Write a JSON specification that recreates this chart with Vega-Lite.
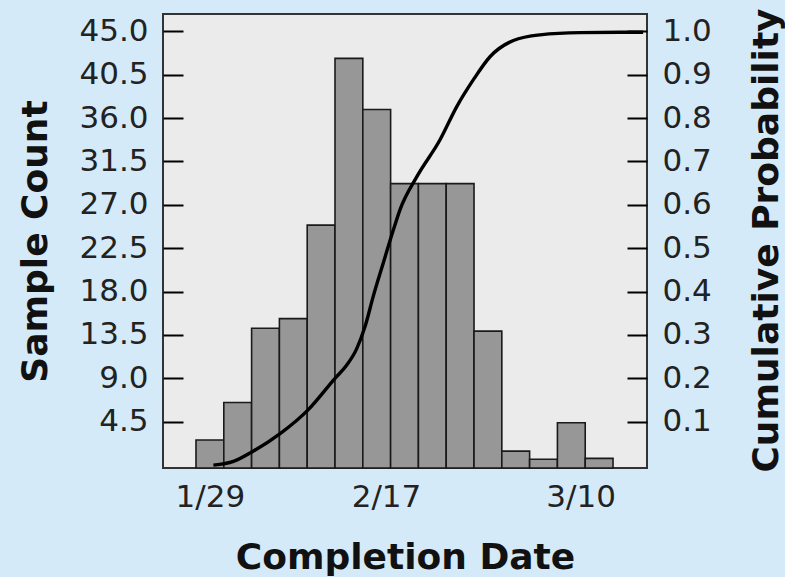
{
  "$schema": "https://vega.github.io/schema/vega-lite/v6.json",
  "description": "Histogram of completion dates with cumulative probability curve.",
  "width": 484,
  "height": 454,
  "autosize": {"type": "none"},
  "padding": {"left": 163, "top": 14, "right": 138, "bottom": 109},
  "background": "#d5eaf8",
  "datasets": {
    "bins": [
      {"start": "2023-01-27T12:00:00Z", "end": "2023-01-30T12:00:00Z", "count": 2.6},
      {"start": "2023-01-30T12:00:00Z", "end": "2023-02-02T12:00:00Z", "count": 6.5},
      {"start": "2023-02-02T12:00:00Z", "end": "2023-02-05T12:00:00Z", "count": 14.2},
      {"start": "2023-02-05T12:00:00Z", "end": "2023-02-08T12:00:00Z", "count": 15.2},
      {"start": "2023-02-08T12:00:00Z", "end": "2023-02-11T12:00:00Z", "count": 24.9},
      {"start": "2023-02-11T12:00:00Z", "end": "2023-02-14T12:00:00Z", "count": 42.2},
      {"start": "2023-02-14T12:00:00Z", "end": "2023-02-17T12:00:00Z", "count": 36.9},
      {"start": "2023-02-17T12:00:00Z", "end": "2023-02-20T12:00:00Z", "count": 29.2},
      {"start": "2023-02-20T12:00:00Z", "end": "2023-02-23T12:00:00Z", "count": 29.2},
      {"start": "2023-02-23T12:00:00Z", "end": "2023-02-26T12:00:00Z", "count": 29.2},
      {"start": "2023-02-26T12:00:00Z", "end": "2023-03-01T12:00:00Z", "count": 13.9},
      {"start": "2023-03-01T12:00:00Z", "end": "2023-03-04T12:00:00Z", "count": 1.45},
      {"start": "2023-03-04T12:00:00Z", "end": "2023-03-07T12:00:00Z", "count": 0.6},
      {"start": "2023-03-07T12:00:00Z", "end": "2023-03-10T12:00:00Z", "count": 4.4},
      {"start": "2023-03-10T12:00:00Z", "end": "2023-03-13T12:00:00Z", "count": 0.7}
    ],
    "cumulative": [
      {"date": "2023-01-29T09:00:00Z", "prob": 0.0},
      {"date": "2023-01-31T13:00:00Z", "prob": 0.0085},
      {"date": "2023-02-02T16:00:00Z", "prob": 0.032},
      {"date": "2023-02-05T13:00:00Z", "prob": 0.072},
      {"date": "2023-02-08T15:00:00Z", "prob": 0.128},
      {"date": "2023-02-11T12:00:00Z", "prob": 0.2},
      {"date": "2023-02-12T18:00:00Z", "prob": 0.23},
      {"date": "2023-02-13T20:00:00Z", "prob": 0.268},
      {"date": "2023-02-14T18:00:00Z", "prob": 0.32},
      {"date": "2023-02-15T15:00:00Z", "prob": 0.389},
      {"date": "2023-02-16T17:00:00Z", "prob": 0.466},
      {"date": "2023-02-17T19:00:00Z", "prob": 0.542},
      {"date": "2023-02-18T12:00:00Z", "prob": 0.588},
      {"date": "2023-02-20T08:00:00Z", "prob": 0.665},
      {"date": "2023-02-22T20:00:00Z", "prob": 0.75},
      {"date": "2023-02-24T15:00:00Z", "prob": 0.826},
      {"date": "2023-02-26T10:00:00Z", "prob": 0.888},
      {"date": "2023-02-28T06:00:00Z", "prob": 0.942},
      {"date": "2023-03-02T18:00:00Z", "prob": 0.979},
      {"date": "2023-03-05T15:00:00Z", "prob": 0.992},
      {"date": "2023-03-09T23:00:00Z", "prob": 0.997},
      {"date": "2023-03-16T18:00:00Z", "prob": 0.998}
    ]
  },
  "layer": [
    {
      "data": {"name": "bins"},
      "mark": {"type": "bar", "fill": "#979797", "stroke": "#1a1a1a", "strokeWidth": 1.6, "opacity": 1},
      "encoding": {
        "x": {
          "field": "start",
          "type": "temporal",
          "scale": {
            "type": "utc",
            "domain": [
              {"year": 2023, "month": 1, "date": 23, "hours": 22, "minutes": 32, "utc": true},
              {"year": 2023, "month": 3, "date": 17, "hours": 4, "utc": true}
            ]
          },
          "axis": {
            "title": "Completion Date",
            "values": [
              {"year": 2023, "month": 1, "date": 29, "utc": true},
              {"year": 2023, "month": 2, "date": 17, "utc": true},
              {"year": 2023, "month": 3, "date": 10, "utc": true}
            ],
            "format": "%-m/%-d",
            "ticks": false,
            "domain": false,
            "grid": false,
            "labelPadding": 14,
            "titlePadding": 28
          }
        },
        "x2": {"field": "end"},
        "y": {
          "field": "count",
          "type": "quantitative",
          "scale": {"domain": [-0.3, 46.8], "nice": false, "zero": false},
          "axis": {
            "title": "Sample Count",
            "orient": "left",
            "values": [4.5, 9, 13.5, 18, 22.5, 27, 31.5, 36, 40.5, 45],
            "format": ".1f",
            "tickSize": -20,
            "labelPadding": 35,
            "titlePadding": 24
          }
        },
        "y2": {"datum": -0.3}
      }
    },
    {
      "data": {"name": "cumulative"},
      "mark": {"type": "line", "color": "#000000", "strokeWidth": 3.4, "interpolate": "monotone"},
      "encoding": {
        "x": {"field": "date", "type": "temporal"},
        "y": {
          "field": "prob",
          "type": "quantitative",
          "scale": {"domain": [-0.00667, 1.04], "nice": false, "zero": false},
          "axis": {
            "title": "Cumulative Probability",
            "orient": "right",
            "values": [0.1, 0.2, 0.3, 0.4, 0.5, 0.6, 0.7, 0.8, 0.9, 1.0],
            "format": ".1f",
            "tickSize": -20,
            "labelPadding": 35,
            "titleAngle": 270,
            "titleBaseline": "top",
            "titlePadding": 38,
            "titleY": 226
          }
        }
      }
    }
  ],
  "resolve": {"scale": {"y": "independent"}},
  "config": {
    "view": {"fill": "#ebebeb", "stroke": "#333333", "strokeWidth": 2},
    "axis": {
      "labelFont": "DejaVu Sans",
      "labelFontSize": 31,
      "labelColor": "#222222",
      "titleFont": "DejaVu Sans",
      "titleFontSize": 36,
      "titleFontWeight": "bold",
      "titleColor": "#111111",
      "tickColor": "#000000",
      "tickWidth": 2,
      "domain": false,
      "grid": false
    }
  }
}
